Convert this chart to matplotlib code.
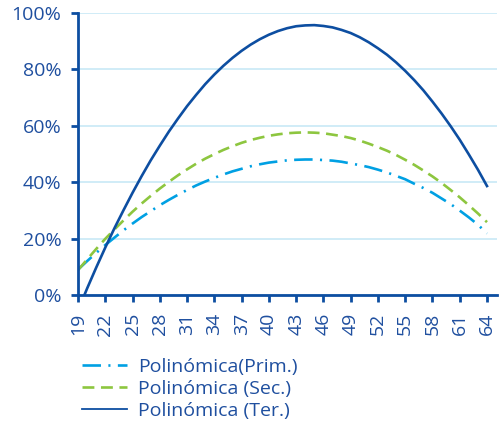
import matplotlib
matplotlib.use("Agg")
import matplotlib.pyplot as plt
from matplotlib.ticker import FuncFormatter

plt.rcParams['font.family'] = ['Open Sans', 'DejaVu Sans']

edades = list(range(19, 65))
marcas = list(range(19, 65, 3))
prim = [9.0, 12.0, 14.9, 17.7, 20.3, 22.9, 25.3, 27.6, 29.7, 31.8,
        33.7, 35.5, 37.2, 38.8, 40.2, 41.5, 42.7, 43.8, 44.7, 45.6,
        46.3, 46.9, 47.3, 47.7, 47.9, 48.0, 48.0, 47.8, 47.6, 47.2,
        46.6, 46.0, 45.3, 44.4, 43.4, 42.2, 41.0, 39.4, 37.9, 36.2,
        34.2, 32.2, 29.9, 27.5, 24.9, 21.8]
sec = [8.8, 12.6, 16.3, 19.9, 23.2, 26.4, 29.5, 32.4, 35.1, 37.7,
       40.1, 42.4, 44.5, 46.5, 48.3, 49.9, 51.4, 52.7, 53.9, 54.9,
       55.7, 56.4, 56.9, 57.3, 57.5, 57.6, 57.5, 57.3, 56.8, 56.3,
       55.6, 54.7, 53.6, 52.4, 51.1, 49.6, 47.9, 46.1, 44.1, 42.0,
       39.7, 37.2, 34.6, 31.8, 28.9, 25.8]
ter = [-5.5, 2.3, 9.7, 16.8, 23.6, 30.0, 36.2, 42.1, 47.7, 52.9,
       57.9, 62.5, 66.9, 70.9, 74.7, 78.1, 81.2, 84.0, 86.5, 88.7,
       90.6, 92.2, 93.5, 94.5, 95.2, 95.5, 95.6, 95.3, 94.8, 93.9,
       92.8, 91.3, 89.5, 87.4, 85.1, 82.4, 79.4, 76.1, 72.5, 68.5,
       64.3, 59.8, 55.0, 49.8, 44.4, 38.6]
nombres = ['Polinómica(Prim.)', 'Polinómica (Sec.)', 'Polinómica (Ter.)']

azul = '#0d4ea1'
texto = '#1f4f9f'
celeste = '#00a0e3'
verde = '#8dc63f'
rejilla = '#c8e9f6'

fig = plt.figure(figsize=(4.99, 4.28), dpi=100)
ax = fig.add_axes([78/499, 1-295/428, (497-78)/499, (295-12.7)/428])

l1, = ax.plot(edades, prim, color=celeste, lw=1.9, ls=(0, (7, 2.8, 0.8, 2.8)))
l2, = ax.plot(edades, sec, color=verde, lw=1.9, ls=(0, (4.5, 2.5)))
l3, = ax.plot(edades, ter, color=azul, lw=1.9)

ax.set_xlim(19, 65.1)
ax.set_ylim(0, 100)
ax.set_xticks(marcas)
ax.set_yticks([0, 20, 40, 60, 80, 100])
ax.yaxis.set_major_formatter(FuncFormatter(lambda v, p: f'{v:.0f}%'))
ax.grid(axis='y', color=rejilla, lw=1.2)
ax.set_axisbelow(True)

for s in ['top', 'right']:
    ax.spines[s].set_visible(False)
for s in ['left', 'bottom']:
    ax.spines[s].set_color(azul)
    ax.spines[s].set_linewidth(2)

ax.tick_params(axis='both', colors=azul, width=2, length=5, labelcolor=texto, labelsize=14)
ax.tick_params(axis='x', rotation=90, pad=8)
ax.tick_params(axis='y', pad=7)

leg = fig.legend([l1, l2, l3], nombres, loc='upper left',
                 bbox_to_anchor=(82/499, 1-358/428), frameon=False,
                 fontsize=14, borderpad=0, borderaxespad=0,
                 handlelength=2.3, handletextpad=0.6, labelspacing=0.2)
for t in leg.get_texts():
    t.set_color(texto)
leg.get_lines()[2].set_linewidth(1.3)

fig.savefig('out.png', dpi=100)
